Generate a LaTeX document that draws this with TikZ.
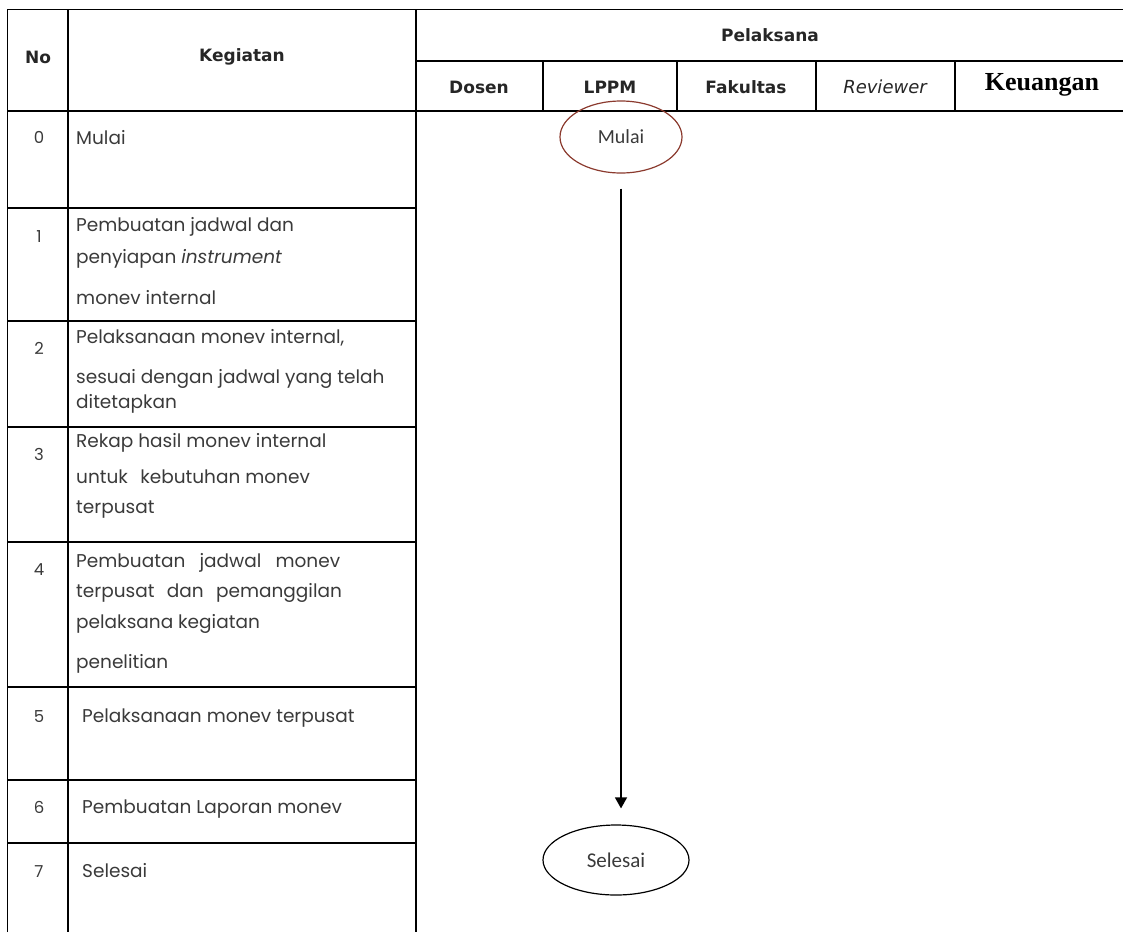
\documentclass[tikz,border=0pt]{standalone}
\usepackage{fontspec}
\setmainfont{Poppins}
\newfontfamily\headf{DejaVu Sans}
\newfontfamily\calf{Carlito}
\newfontfamily\serf{Liberation Serif}
\usetikzlibrary{shapes.geometric,arrows.meta}
\definecolor{txt}{HTML}{3A3A3A}
\definecolor{brd}{HTML}{8B3A2E}
\begin{document}
\begin{tikzpicture}[x=1pt,y=-1pt,
  grid/.style={line width=1.6pt,black},
  hd/.style={font=\headf\bfseries\fontsize{17}{19}\selectfont,text=black!85,inner sep=0pt},
  num/.style={font=\fontsize{16.5}{18}\selectfont,text=txt,inner sep=0pt,anchor=base},
  body/.style={font=\fontsize{18.5}{20}\selectfont,text=txt,inner sep=0pt,anchor=base west},
  term/.style={ellipse,draw,line width=1.2pt,inner sep=0pt,font=\calf,text=txt}]
\useasboundingbox (0,0) rectangle (1123,932);
% table lines
\draw[grid] (7.5,932) -- (7.5,9.5) -- (1123,9.5);
\draw[grid] (68,9.5) -- (68,932);
\draw[grid] (416,9.5) -- (416,932);
\draw[grid] (416,61) -- (1123,61);
\draw[grid] (7.5,111) -- (1123,111);
\foreach \x in {543,677,816,955} \draw[grid] (\x,61) -- (\x,111);
\foreach \y in {208,321,427,542,687,780,843} \draw[grid] (7.5,\y) -- (416,\y);
% headers
\node[hd] (hno) at (38,57) {No};
\node[hd] (hkeg) at (242,57) {Kegiatan};
\node[hd] (hpel) at (770,35) {Pelaksana};
\node[hd] (hdos) at (479,87) {Dosen};
\node[hd] (hlppm) at (610,87) {LPPM};
\node[hd] (hfak) at (746,87) {Fakultas};
\node[font=\headf\itshape\fontsize{18}{20}\selectfont,inner sep=0pt,text=black!85] (hrev) at (885,87) {Reviewer};
\node[font=\serf\bfseries\fontsize{26}{28}\selectfont,inner sep=0pt] (hkeu) at (1042,85) {Keuangan};
% numbers
\node[num] (n0) at (39,143) {0};
\node[num] (n1) at (39,242) {1};
\node[num] (n2) at (39,354) {2};
\node[num] (n3) at (39,460) {3};
\node[num] (n4) at (39,575) {4};
\node[num] (n5) at (39,722) {5};
\node[num] (n6) at (39,813) {6};
\node[num] (n7) at (39,877) {7};
% activities
\node[body] (t0) at (76,144) {Mulai};
\node[body] (t1a) at (76,231) {Pembuatan jadwal dan};
\node[body] (t1b) at (76,263) {penyiapan \textit{instrument}};
\node[body] (t1c) at (76,304) {monev internal};
\node[body] (t2a) at (76,343) {Pelaksanaan monev internal,};
\node[body] (t2b) at (76,383) {sesuai dengan jadwal yang telah};
\node[body] (t2c) at (76,408) {ditetapkan};
\node[body] (t3a) at (76,447) {Rekap hasil monev internal};
\node[body] (t3b) at (76,483) {untuk\hspace{0.4em} kebutuhan monev};
\node[body] (t3c) at (76,513) {terpusat};
\node[body] (t4a) at (76,567) {Pembuatan\hspace{0.5em} jadwal\hspace{0.5em} monev};
\node[body] (t4b) at (76,597) {terpusat\hspace{0.4em} dan\hspace{0.4em} pemanggilan};
\node[body] (t4c) at (76,628) {pelaksana kegiatan};
\node[body] (t4d) at (76,668) {penelitian};
\node[body] (t5) at (82,722) {Pelaksanaan monev terpusat};
\node[body] (t6) at (82,813) {Pembuatan Laporan monev};
\node[body] (t7) at (82,877) {Selesai};
% flow
\node[term,draw=brd,minimum width=122pt,minimum height=72pt,font=\calf\fontsize{20}{22}\selectfont] (mulai) at (621,137) {Mulai};
\node[term,minimum width=146pt,minimum height=70pt,font=\calf\fontsize{21}{23}\selectfont] (selesai) at (616,860) {Selesai};
\draw[line width=1.4pt,-{Triangle[length=11pt,width=12pt]},shorten <=15pt,shorten >=16pt] (mulai.south) -- (mulai.south |- selesai.north);
\end{tikzpicture}
\end{document}
